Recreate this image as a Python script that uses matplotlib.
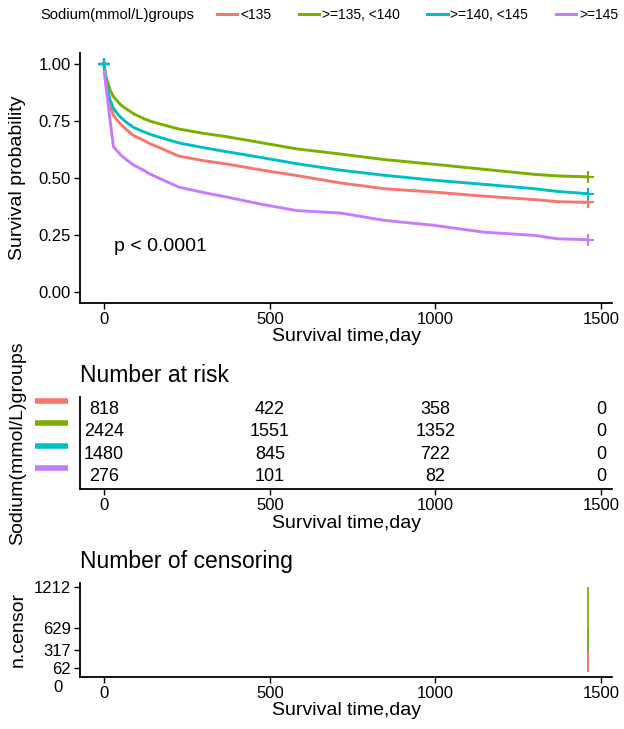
import matplotlib.pyplot as plt
from matplotlib.lines import Line2D
from matplotlib import transforms

plt.rcParams['font.family'] = ['Liberation Sans', 'DejaVu Sans']

# groups
group_title = 'Sodium(mmol/L)groups'
group_labels = ['<135', '>=135, <140', '>=140, <145', '>=145']
group_colors = ['#F8766D', '#7CAE00', '#00BFC4', '#C77CFF']

# survival curves
time_days = [0, 3, 8, 18, 28, 38, 50, 69, 90, 119, 140, 169, 225, 300, 371, 470, 580, 714, 845,
             996, 1147, 1298, 1368, 1460]
surv_lt135 = [1.0, 0.94, 0.885, 0.812, 0.775, 0.755, 0.735, 0.709, 0.684, 0.665, 0.648, 0.631, 0.595,
              0.575, 0.56, 0.535, 0.51, 0.477, 0.452, 0.437, 0.419, 0.404, 0.395, 0.392]
surv_135_140 = [1.0, 0.96, 0.93, 0.885, 0.856, 0.84, 0.82, 0.80, 0.78, 0.76, 0.748, 0.736, 0.714,
                0.695, 0.68, 0.655, 0.627, 0.604, 0.58, 0.559, 0.537, 0.515, 0.508, 0.504]
surv_140_145 = [1.0, 0.95, 0.90, 0.841, 0.805, 0.785, 0.765, 0.741, 0.72, 0.702, 0.69, 0.677, 0.653,
                0.632, 0.614, 0.59, 0.562, 0.533, 0.511, 0.489, 0.471, 0.452, 0.44, 0.43]
surv_ge145 = [1.0, 0.93, 0.87, 0.75, 0.636, 0.62, 0.60, 0.577, 0.555, 0.533, 0.515, 0.496, 0.459,
              0.435, 0.415, 0.385, 0.356, 0.345, 0.313, 0.291, 0.261, 0.247, 0.232, 0.228]
pval_text = 'p < 0.0001'

# number at risk
risk_times = [0, 500, 1000, 1500]
risk_lt135 = [818, 422, 358, 0]
risk_135_140 = [2424, 1551, 1352, 0]
risk_140_145 = [1480, 845, 722, 0]
risk_ge145 = [276, 101, 82, 0]

# censoring at the end of follow-up
censor_time = 1460
censor_counts = [317, 1212, 629, 62]
censor_ticks = [62, 317, 629, 1212]

x_ticks = [0, 500, 1000, 1500]
xlim = (-73, 1533)
xlab = 'Survival time,day'

W, H = 624, 729
fig = plt.figure(figsize=(W / 100, H / 100), dpi=100)


def px_axes(left, top, right, bottom):
    return fig.add_axes([left / W, 1 - bottom / H, (right - left) / W, (bottom - top) / H])


def style(ax):
    for s in ['top', 'right']:
        ax.spines[s].set_visible(False)
    for s in ['left', 'bottom']:
        ax.spines[s].set_linewidth(1.3)
    ax.tick_params(length=4.5, width=1, labelsize=12, pad=2, color='black')
    ax.set_xlim(*xlim)
    ax.set_xticks(x_ticks)


# main plot
ax = px_axes(80, 52.5, 612, 303)
style(ax)
curves = [surv_lt135, surv_135_140, surv_140_145, surv_ge145]
for surv, col in zip(curves, group_colors):
    ax.plot(time_days, surv, color=col, lw=2.1)
    ax.plot([time_days[-1]], [surv[-1]], marker='+', color=col, ms=8, mew=1.5)
for order in [3, 0, 1, 2]:
    ax.plot([time_days[0]], [curves[order][0]], marker='+', color=group_colors[order], ms=9, mew=1.6)
ax.set_ylim(-0.05, 1.05)
ax.set_yticks([0, 0.25, 0.5, 0.75, 1.0])
ax.set_yticklabels(['0.00', '0.25', '0.50', '0.75', '1.00'])
ax.set_ylabel('Survival probability', fontsize=14)
ax.yaxis.set_label_coords((26 - 80) / 532, 0.5)
ax.set_xlabel(xlab, fontsize=14, labelpad=1)
ax.text(time_days[-1] / 50, 0.2, pval_text, fontsize=14, ha='left', va='center')

# legend at top
fig.text(40 / W, 1 - 15 / H, group_title, fontsize=10.6, ha='left', va='center')
handles = [Line2D([], [], color=c, lw=2.2) for c in group_colors]
fig.legend(handles, group_labels, loc='center left', bbox_to_anchor=(217 / W, 1 - 15 / H),
           ncol=4, frameon=False, fontsize=10, handlelength=1.45, handletextpad=0.2,
           columnspacing=2.0, borderpad=0, borderaxespad=0)

# risk table
axr = px_axes(80, 396.7, 612, 489.3)
style(axr)
risk_rows = [risk_lt135, risk_135_140, risk_140_145, risk_ge145]
for i, row in enumerate(risk_rows):
    for t, n in zip(risk_times, row):
        axr.text(t, i + 1, str(n), fontsize=13, ha='center', va='center')
axr.set_ylim(4.56, 0.44)
axr.set_yticks([])
bar_tr = transforms.blended_transform_factory(axr.transAxes, axr.transData)
for i, col in enumerate(group_colors):
    axr.plot([(35 - 80) / 532, (68 - 80) / 532], [i + 1 - 0.37, i + 1 - 0.37], color=col, lw=4,
             solid_capstyle='butt', transform=bar_tr, clip_on=False)
axr.set_ylabel(group_title, fontsize=14)
axr.yaxis.set_label_coords((26 - 80) / 532, 0.5)
axr.set_xlabel(xlab, fontsize=14, labelpad=1)
fig.text(80 / W, 1 - 375 / H, 'Number at risk', fontsize=16.5, ha='left', va='center')

# censoring plot
axc = px_axes(80, 582.5, 612, 676.5)
style(axc)
for idx in [3, 2, 1, 0]:
    axc.bar(censor_time, censor_counts[idx], width=6, color=group_colors[idx], alpha=0.85)
axc.set_ylim(-60.6, 1272.6)
axc.set_yticks(censor_ticks)
axc.set_ylabel('n.censor', fontsize=14)
axc.yaxis.set_label_coords((27 - 80) / 532, 0.5)
axc.set_xlabel(xlab, fontsize=14, labelpad=1)
fig.text(58 / W, 1 - 687 / H, '0', fontsize=12, ha='center', va='center')
fig.text(80 / W, 1 - 561.7 / H, 'Number of censoring', fontsize=16.5, ha='left', va='center')

fig.savefig('out.png', dpi=100)
